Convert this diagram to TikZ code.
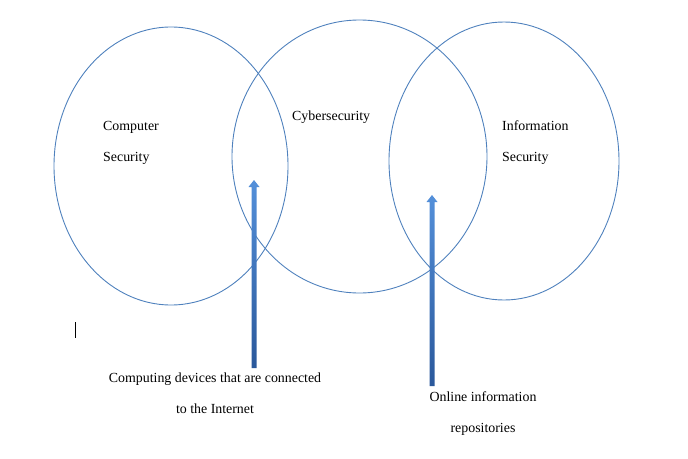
\documentclass[tikz,border=0pt]{standalone}
\usepackage{fontspec}
\setmainfont{Liberation Serif}
\usetikzlibrary{calc}
\definecolor{ovalblue}{RGB}{79,129,189}
\definecolor{arrowtop}{RGB}{84,144,218}
\definecolor{arrowbot}{RGB}{42,88,155}
\tikzset{
	oval/.style		= {draw=ovalblue, line width=0.9pt},
	label/.style	= {font=\fontsize{13.9}{30.5}\selectfont, inner sep=0pt},
	upshaft/.style	= {top color=arrowtop, bottom color=arrowbot, draw=none}
}
% Fleche pleine : #1 pied, #2 pointe
\newcommand{\fatarrow}[2]{%
	\path [upshaft]	($(#1)+(-2.5,0)$) -- ($(#2)+(-2.5,7)$) -- ($(#2)+(-5.5,7)$) -- (#2)
					-- ($(#2)+(5.5,7)$) -- ($(#2)+(2.5,7)$) -- ($(#1)+(2.5,0)$) -- cycle;}
\begin{document}
\begin{tikzpicture}[x=1pt, y=-1pt]
	% Cadre
	\useasboundingbox 		(0,0)		rectangle	(688,458)	;
	% Ellipses
	\draw [oval]	(171,166)	ellipse [x radius=117,   y radius=139]	;	% Computer
	\draw [oval]	(359.5,156.5) ellipse [x radius=127.5, y radius=136.5];	% Cyber
	\draw [oval]	(504,161)	ellipse [x radius=115,   y radius=139]	;	% Information
	% Textes (base = derniere ligne)
	\node [label, anchor=base west, align=left]	(computer)	at (103,161)	{Computer\\Security};
	\node [label, anchor=base west]				(cyber)		at (292,120)	{Cybersecurity};
	\node [label, anchor=base west, align=left]	(info)		at (502,161)	{Information\\Security};
	\node [label, anchor=base, align=center]	(devices)	at (215,413)	{Computing devices that are connected\\to the Internet};
	\node [label, anchor=base, align=center]	(online)	at (483,432)	{Online information\\repositories};
	% Fleches
	\coordinate (devfoot)	at (254,368);
	\coordinate (devtip)	at (254,180);
	\coordinate (onlfoot)	at (432,386);
	\coordinate (onltip)	at (432,195);
	\fatarrow{devfoot}{devtip}
	\fatarrow{onlfoot}{onltip}
	% Curseur
	\draw [black, line width=0.8pt]	(75,322) -- (75,338);
\end{tikzpicture}
\end{document}
